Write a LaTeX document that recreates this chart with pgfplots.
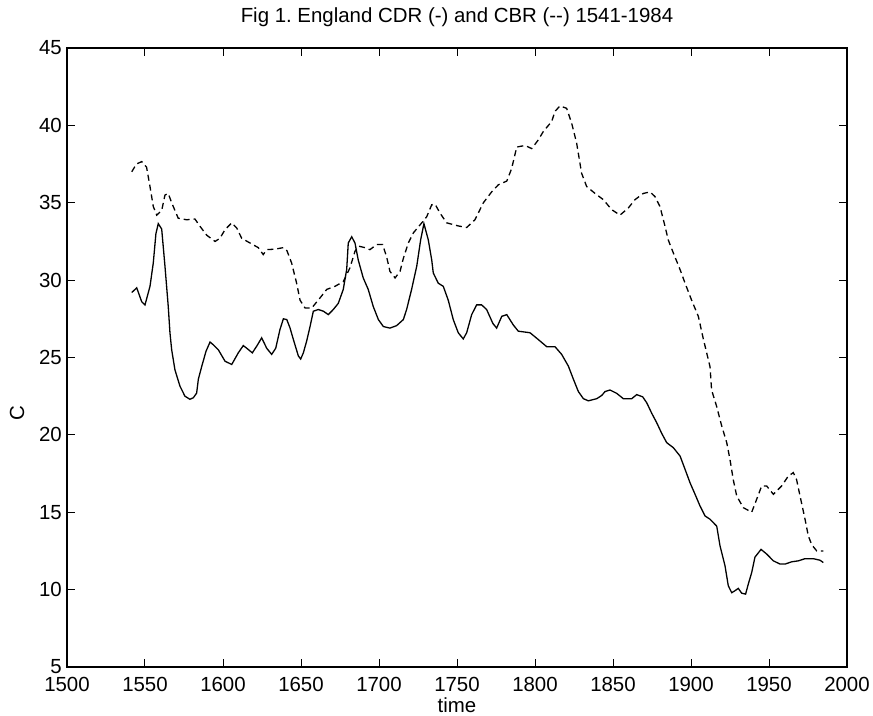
\documentclass[border=0pt]{standalone}
\usepackage{fontspec}
\setmainfont{Liberation Sans}
\usepackage{pgfplots}
\pgfplotsset{compat=1.18}
\begin{document}
\fontsize{20.5}{24}\selectfont
\begin{tikzpicture}
\path[use as bounding box] (-67bp,-49bp) rectangle (806bp,667bp);
\begin{axis}[
  at={(0,0)}, anchor=south west,
  scale only axis, width=780bp, height=619bp,
  xmin=1500, xmax=2000, ymin=5, ymax=45,
  xtick={1500,1550,...,2000}, ytick={5,10,...,45},
  tick align=inside, major tick length=8bp,
  xtick pos=both, ytick pos=both,
  axis line style={line width=1.3bp},
  every tick/.style={black, line width=1bp},
  /pgf/number format/1000 sep={},
  /pgf/number format/assume math mode=true,
  tick label style={font=\fontsize{20.5}{24}\selectfont},
  xticklabel style={anchor=north, inner sep=0pt, yshift=-10bp},
  yticklabel style={anchor=east, inner sep=0pt, xshift=-5bp},
  title={\frenchspacing Fig 1. England CDR (-) and CBR (-{}-) 1541-1984},
  title style={at={(axis description cs:0.5,1)}, anchor=center, yshift=25bp, inner sep=0pt},
  xlabel={time},
  xlabel style={at={(axis description cs:0.5,0)}, anchor=center, yshift=-38bp, inner sep=0pt},
  ylabel={C},
  ylabel style={at={(axis description cs:-0.064,0.41)}, anchor=center, inner sep=0pt},
  clip=false,
]
% CDR (solid)
\addplot[black, line width=1.3bp] table {
1541.5 29.2
1544.7 29.5
1547.9 28.6
1550.0 28.4
1553.2 29.6
1555.3 31.1
1557.0 33.0
1558.5 33.65
1560.7 33.3
1562.8 30.9
1564.9 28.3
1566.0 26.6
1567.1 25.5
1569.2 24.2
1572.4 23.15
1575.6 22.5
1578.8 22.3
1581.0 22.4
1583.1 22.7
1584.2 23.6
1586.3 24.4
1589.1 25.4
1591.7 26.0
1594.0 25.8
1597.0 25.5
1601.3 24.76
1605.6 24.55
1609.8 25.3
1613.0 25.77
1615.2 25.6
1618.8 25.3
1621.6 25.73
1624.8 26.27
1628.0 25.6
1631.2 25.2
1633.8 25.6
1636.5 26.8
1638.7 27.5
1640.9 27.45
1643.0 26.9
1645.0 26.2
1648.3 25.1
1649.8 24.9
1651.5 25.3
1653.6 26.05
1655.8 27.0
1657.9 27.99
1661.1 28.1
1664.4 27.99
1667.5 27.77
1670.7 28.1
1673.9 28.5
1677.1 29.4
1679.3 30.7
1680.3 32.4
1682.5 32.8
1684.6 32.4
1686.7 31.3
1689.9 30.14
1693.1 29.4
1696.3 28.3
1699.6 27.45
1702.8 27.0
1707.0 26.9
1711.3 27.06
1715.6 27.45
1717.7 28.1
1720.9 29.4
1724.2 30.9
1726.7 32.6
1728.8 33.65
1731.6 32.6
1733.8 31.3
1734.8 30.46
1738.0 29.8
1741.2 29.6
1744.4 28.7
1747.6 27.45
1750.8 26.6
1754.0 26.2
1756.2 26.6
1759.4 27.77
1762.6 28.4
1765.8 28.4
1769.0 28.1
1773.0 27.2
1775.4 26.9
1778.7 27.66
1781.9 27.77
1786.1 27.1
1789.3 26.7
1796.8 26.6
1802.1 26.16
1807.5 25.7
1812.8 25.7
1817.1 25.2
1821.4 24.44
1824.6 23.6
1827.8 22.8
1831.0 22.34
1834.2 22.2
1839.6 22.34
1842.8 22.55
1844.9 22.8
1848.1 22.9
1852.4 22.68
1856.6 22.34
1862.0 22.34
1865.2 22.6
1869.0 22.46
1871.6 22.08
1874.8 21.4
1878.0 20.79
1881.2 20.1
1884.4 19.5
1888.7 19.17
1893.0 18.63
1896.2 17.77
1899.4 16.9
1902.6 16.16
1905.8 15.4
1909.0 14.76
1912.2 14.55
1916.5 14.1
1918.6 12.83
1921.8 11.54
1923.9 10.25
1926.1 9.8
1928.2 9.93
1930.3 10.08
1932.5 9.77
1935.0 9.71
1936.7 10.35
1938.9 11.1
1941.0 12.1
1944.9 12.6
1948.5 12.3
1952.8 11.86
1957.1 11.65
1960.3 11.65
1964.6 11.8
1968.8 11.86
1973.1 12.0
1978.4 12.0
1982.7 11.9
1984.8 11.75
};
% CBR (dashed)
\addplot[black, line width=1.3bp, dash pattern=on 6bp off 4bp] table {
1541.5 37.0
1544.5 37.5
1547.9 37.66
1551.0 37.3
1553.2 36.05
1555.3 34.76
1557.5 34.2
1560.7 34.5
1562.8 35.5
1564.9 35.6
1567.1 35.0
1571.3 34.0
1576.7 33.9
1582.0 33.95
1585.3 33.47
1589.6 32.9
1594.9 32.5
1598.0 32.7
1601.3 33.26
1605.6 33.7
1608.8 33.37
1612.0 32.7
1617.3 32.4
1622.6 32.1
1625.8 31.65
1628.0 31.97
1633.3 32.0
1638.7 32.1
1641.0 31.9
1644.0 31.1
1647.2 29.8
1649.4 28.7
1652.6 28.2
1656.9 28.2
1662.2 28.85
1666.5 29.4
1671.8 29.6
1677.1 29.9
1681.4 30.8
1684.6 31.86
1686.7 32.2
1691.0 32.1
1694.2 31.97
1698.5 32.3
1702.3 32.3
1704.9 31.5
1707.0 30.57
1710.3 30.14
1713.5 30.57
1715.6 31.4
1718.8 32.4
1722.0 33.05
1727.4 33.7
1730.6 34.1
1733.8 34.87
1736.0 34.9
1739.1 34.33
1743.4 33.7
1750.9 33.5
1756.2 33.4
1761.5 33.9
1766.9 35.0
1772.2 35.7
1776.5 36.16
1781.9 36.4
1785.0 37.2
1788.3 38.6
1793.6 38.7
1797.9 38.5
1802.1 39.06
1805.3 39.6
1810.7 40.25
1812.8 40.9
1816.0 41.26
1820.3 41.1
1823.5 40.14
1826.7 38.85
1828.8 37.56
1829.9 36.9
1833.1 36.05
1838.5 35.6
1843.8 35.2
1849.2 34.55
1854.5 34.2
1859.8 34.66
1864.1 35.2
1869.4 35.6
1873.7 35.7
1876.9 35.4
1880.1 34.76
1883.3 33.5
1885.4 32.6
1888.7 31.75
1893.0 30.68
1896.2 29.8
1900.4 28.7
1904.7 27.66
1907.9 26.2
1912.2 24.4
1913.2 22.9
1916.4 21.85
1919.7 20.57
1922.9 19.5
1925.0 18.4
1927.1 17.1
1929.3 16.05
1933.5 15.3
1938.9 15.0
1942.1 15.84
1945.3 16.7
1948.5 16.7
1952.8 16.16
1958.1 16.7
1962.4 17.34
1965.6 17.56
1967.7 17.1
1969.9 16.05
1973.1 14.55
1975.2 13.47
1977.4 12.9
1980.6 12.5
1984.8 12.5
};
\end{axis}
\end{tikzpicture}
\end{document}
